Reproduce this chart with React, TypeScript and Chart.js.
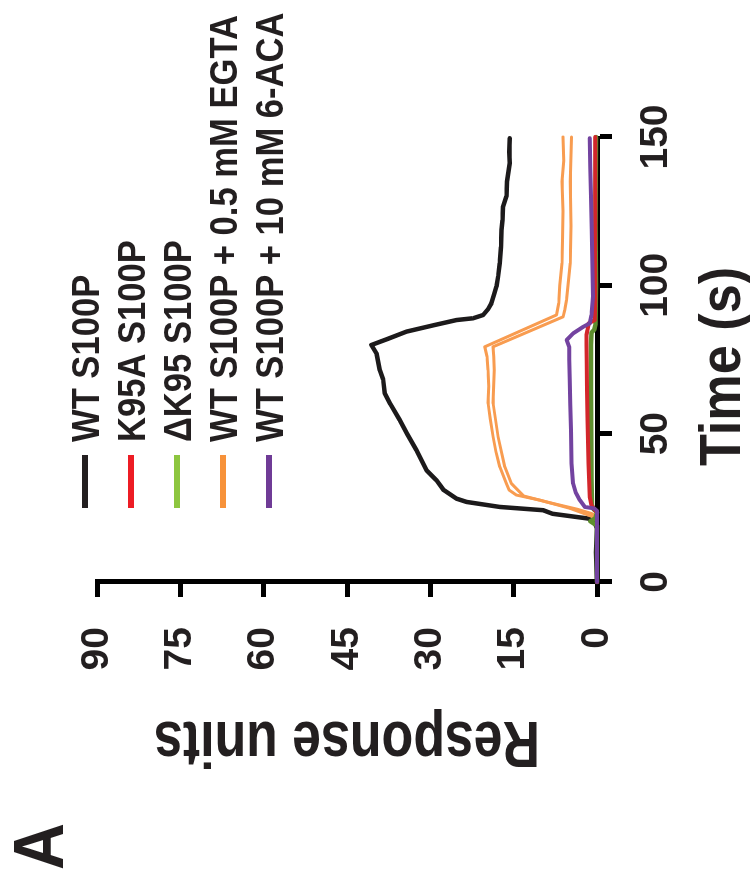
import React, { useEffect, useRef } from 'react';
import { Chart, registerables } from 'chart.js';

Chart.register(...registerables);

const FONT = '"Liberation Sans", Arial, Helvetica, sans-serif';
const TEXT_COLOR = '#231f20';

// ---- labels / ticks ----
const seriesLabels = [
  'WT S100P',
  'K95A S100P',
  'ΔK95 S100P',
  'WT S100P + 0.5 mM EGTA',
  'WT S100P + 10 mM 6-ACA',
];
const legendColors = ['#231f20', '#ed1c24', '#8dc63f', '#f7923a', '#6f3b96'];
const lineColors = ['#1c1a1b', '#d3262b', '#5e8f2e', '#f89c50', '#7343a0'];

const xTickValues = [0, 50, 100, 150];
const yTickValues = [0, 15, 30, 45, 60, 75, 90];
const xTitle = 'Time (s)';
const yTitle = 'Response units';
const panelLabel = 'A';

// ---- series (time in s, response units) ----
const wtTime = [0, 10, 18, 20.5, 21.4, 23, 24.2, 25.3, 27, 28.1, 31, 34.3, 37.7, 44.4, 50, 54.6, 60, 63.6, 68.3, 71.4, 77.1, 79.9, 82, 84.4, 86.5, 88.3, 88.9, 90, 92, 94, 97, 99.6, 103, 107.5, 113, 118.7, 122, 126.6, 130, 135, 141.2, 145, 149.6];
const wtRU = [0, 0.2, 0, 0.5, 1.6, 8, 9.7, 17.5, 23.5, 25.3, 27.6, 28.9, 30.7, 32.5, 34.2, 35.5, 37.2, 38.2, 38.5, 39.1, 39.7, 40.6, 37.6, 34.3, 29.5, 25.3, 22.3, 20.5, 19.6, 19, 18.5, 18.1, 17.8, 17.5, 17.3, 17.2, 17.0, 16.9, 16.3, 16.2, 15.7, 15.8, 15.7];

const k95aTime = [0, 23.5, 24.5, 25.9, 28.7, 40, 55, 65, 73.7, 80, 83.3, 85, 87.2, 88.3, 95, 110, 125, 150];
const k95aRU = [0, 0, 0.5, 1.0, 1.3, 1.55, 1.7, 1.8, 1.85, 1.9, 1.9, 1.7, 1.5, 0.4, 0.3, 0.35, 0.3, 0.3];

const dk95Time = [0, 19, 20.5, 21.5, 23.5, 24.5, 26, 35, 50, 65, 80, 84, 85, 87, 100, 120, 150];
const dk95RU = [0, 0, 1.2, 0.3, 0, 0.6, 0.9, 1.0, 1.05, 1.1, 1.1, 1.0, 0.5, 0.25, 0.2, 0.25, 0.2];

const egtaTimeA = [0, 21.5, 22.5, 24.8, 27.6, 29.3, 31, 33.2, 38.8, 44, 48.9, 55, 60.2, 66, 71.4, 76, 79.3, 90, 94, 100, 107.5, 115, 125, 135, 142, 150];
const egtaRUA = [0, 0, 1.5, 4.8, 10.3, 14.5, 15.8, 16.3, 17.5, 18.2, 18.7, 19.2, 19.6, 19.5, 19.6, 19.8, 20.2, 7.3, 6.9, 6.7, 6.3, 6.2, 6.1, 6.3, 6.0, 6.1];
const egtaTimeB = [0, 22, 23.1, 24.5, 27, 29, 33.2, 38.8, 48.9, 60.2, 71.4, 76, 79.3, 89.4, 91.7, 95, 100, 107.5, 120, 135, 150];
const egtaRUB = [0, 0, 1, 3.5, 9.1, 13.2, 15.4, 16.6, 17.8, 18.7, 18.5, 18.6, 18.7, 6.1, 5.8, 5.5, 5.2, 4.8, 4.7, 4.8, 4.6];

const acaTime = [0, 24, 24.8, 25.3, 27.6, 30, 33.2, 40, 51.2, 60, 68.1, 75, 79.3, 81.6, 83.8, 86, 87.2, 90, 96.2, 105, 118.7, 130, 140, 149.6];
const acaRU = [0, 0, 0.5, 2.2, 3.1, 3.8, 4.3, 4.6, 4.7, 4.8, 4.9, 5.0, 5.0, 5.45, 4.3, 2.5, 1.3, 1.0, 0.7, 0.8, 0.95, 1.1, 1.2, 1.3];

const toPoints = (t: number[], r: number[]) => t.map((x, i) => ({ x, y: r[i] }));

function drawText(
  ctx: CanvasRenderingContext2D,
  text: string,
  x: number,
  y: number,
  size: number,
  sx: number,
  rot: number,
  align: CanvasTextAlign
) {
  ctx.save();
  ctx.translate(x, y);
  ctx.rotate(rot);
  ctx.scale(sx, 1);
  ctx.font = `bold ${size}px ${FONT}`;
  ctx.fillStyle = TEXT_COLOR;
  ctx.textAlign = align;
  ctx.textBaseline = 'alphabetic';
  ctx.fillText(text, 0, 0);
  ctx.restore();
}

const overlayPlugin = {
  id: 'overlayText',
  afterDraw(chart: any) {
    const ctx: CanvasRenderingContext2D = chart.ctx;
    const ca = chart.chartArea;
    // axis titles
    drawText(ctx, xTitle, (ca.left + ca.right) / 2 - 7, 740, 58, 0.9, 0, 'center');
    drawText(ctx, yTitle, 163, (ca.top + ca.bottom) / 2, 64, 0.81, -Math.PI / 2, 'center');
    // panel label
    drawText(ctx, panelLabel, 15, 63, 70, 0.93, 0, 'left');
    // legend
    const rowStart = 85;
    const rowStep = 46;
    seriesLabels.forEach((label, i) => {
      const v = rowStart + i * rowStep;
      ctx.save();
      ctx.strokeStyle = legendColors[i];
      ctx.lineWidth = 6;
      ctx.beginPath();
      ctx.moveTo(377, v);
      ctx.lineTo(430, v);
      ctx.stroke();
      ctx.restore();
      drawText(ctx, label, 443, v + 13.6, 38, 0.91, 0, 'left');
    });
  },
};

export default function App() {
  const ref = useRef<HTMLCanvasElement>(null);

  useEffect(() => {
    const canvas = ref.current;
    if (!canvas) return;
    const mk = (t: number[], r: number[], color: string, width: number) => ({
      data: toPoints(t, r),
      borderColor: color,
      backgroundColor: color,
      borderWidth: width,
      pointRadius: 0,
      tension: 0,
      fill: false,
      clip: 6,
      borderJoinStyle: 'round' as const,
      borderCapStyle: 'round' as const,
    });
    const chart = new Chart(canvas, {
      type: 'line',
      data: {
        datasets: [
          { label: seriesLabels[4], ...mk(acaTime, acaRU, lineColors[4], 4) },
          { label: seriesLabels[1], ...mk(k95aTime, k95aRU, lineColors[1], 4) },
          { label: seriesLabels[2], ...mk(dk95Time, dk95RU, lineColors[2], 4.5) },
          { label: seriesLabels[3], ...mk(egtaTimeA, egtaRUA, lineColors[3], 3) },
          { label: seriesLabels[3] + ' (rep)', ...mk(egtaTimeB, egtaRUB, lineColors[3], 3) },
          { label: seriesLabels[0], ...mk(wtTime, wtRU, lineColors[0], 4.5) },
        ],
      },
      options: {
        responsive: false,
        animation: false,
        devicePixelRatio: 1,
        layout: { padding: { left: 0, right: 137, top: 97, bottom: 0 } },
        plugins: {
          legend: { display: false },
          tooltip: { enabled: false },
          title: { display: false },
        },
        scales: {
          x: {
            type: 'linear',
            min: 0,
            max: 150,
            afterBuildTicks: (s: any) => {
              s.ticks = xTickValues.map((value) => ({ value }));
            },
            afterFit: (s: any) => {
              s.height = 153;
            },
            grid: {
              drawOnChartArea: false,
              drawTicks: true,
              tickLength: 15,
              tickWidth: 5,
              tickColor: '#000',
            },
            border: { display: true, color: '#000', width: 5 },
            ticks: {
              color: TEXT_COLOR,
              padding: 21,
              maxRotation: 0,
              font: { family: FONT, size: 39, weight: 'bold' },
            },
          },
          y: {
            type: 'linear',
            min: 0,
            max: 90,
            afterBuildTicks: (s: any) => {
              s.ticks = yTickValues.map((value) => ({ value }));
            },
            afterFit: (s: any) => {
              s.width = 303;
            },
            grid: {
              drawOnChartArea: false,
              drawTicks: true,
              tickLength: 15,
              tickWidth: 5,
              tickColor: '#000',
            },
            border: { display: true, color: '#000', width: 5 },
            ticks: {
              color: TEXT_COLOR,
              padding: 30,
              font: { family: FONT, size: 39, weight: 'bold' },
            },
          },
        },
      },
      plugins: [overlayPlugin],
    });
    return () => chart.destroy();
  }, []);

  return (
    <div
      style={{
        position: 'fixed',
        left: 0,
        top: 0,
        width: 750,
        height: 885,
        overflow: 'hidden',
        background: '#fff',
      }}
    >
      <div
        style={{
          position: 'absolute',
          left: 0,
          top: 0,
          width: 885,
          height: 750,
          transformOrigin: '0 0',
          transform: 'translateY(885px) rotate(-90deg)',
        }}
      >
        <canvas ref={ref} width={885} height={750} style={{ display: 'block', width: 885, height: 750 }} />
      </div>
    </div>
  );
}
